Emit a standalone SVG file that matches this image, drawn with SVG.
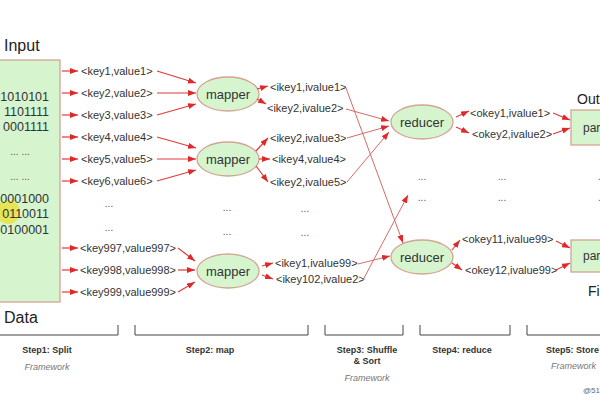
<svg xmlns="http://www.w3.org/2000/svg" width="600" height="400" viewBox="0 0 600 400">
<style>
text{font-family:"Liberation Sans",Arial,sans-serif;fill:#333}
.t{font-size:11px}
.big{font-size:16px;fill:#222}
.bin{font-size:12.5px;text-anchor:end}
.dots{font-size:10px;fill:#555}
.node{fill:#d6f5cf;stroke:#d4a494;stroke-width:1.3}
.lbl{font-size:13px;text-anchor:middle}
.ar{stroke:#e23a3a;stroke-width:1.2;fill:none;marker-end:url(#ah)}
.ln{stroke:#d86a6a;stroke-width:1;fill:none;marker-end:url(#ah)}
.br{stroke:#444;stroke-width:1;fill:none}
.step{font-size:9px;font-weight:bold;text-anchor:middle;fill:#333}
.fw{font-size:9px;font-style:italic;text-anchor:middle;fill:#777}
</style>
<defs>
<marker id="ah" markerUnits="userSpaceOnUse" markerWidth="8" markerHeight="6" refX="8" refY="3" orient="auto">
<path d="M0,0 L8,3 L0,6 z" fill="#e02828"/>
</marker>
</defs>
<rect width="600" height="400" fill="#fff"/>

<g id="input">
<text class="big" x="4" y="51">Input</text>
<rect class="node" x="-5" y="60" width="65" height="242"/>
<circle cx="8" cy="212" r="12" fill="#e8e030" fill-opacity="0.75"/>
<text class="bin" x="49" y="101">1010101</text>
<text class="bin" x="49" y="116">1101111</text>
<text class="bin" x="49" y="131">0001111</text>
<text class="dots" x="20" y="155" text-anchor="middle">... ...</text>
<text class="dots" x="20" y="180" text-anchor="middle">... ...</text>
<text class="bin" x="49" y="203">0001000</text>
<text class="bin" x="49" y="218">0110011</text>
<text class="bin" x="49" y="234">0100001</text>
<text class="big" x="4" y="323">Data</text>
</g>

<g id="keys">
<text class="t" x="81" y="75">&lt;key1,value1&gt;</text>
<text class="t" x="81" y="97">&lt;key2,value2&gt;</text>
<text class="t" x="81" y="119">&lt;key3,value3&gt;</text>
<text class="t" x="81" y="141">&lt;key4,value4&gt;</text>
<text class="t" x="81" y="163">&lt;key5,value5&gt;</text>
<text class="t" x="81" y="185">&lt;key6,value6&gt;</text>
<text class="dots" x="109" y="207" text-anchor="middle">...</text>
<text class="dots" x="109" y="231" text-anchor="middle">...</text>
<text class="t" x="80" y="252">&lt;key997,value997&gt;</text>
<text class="t" x="80" y="274">&lt;key998,value998&gt;</text>
<text class="t" x="80" y="296">&lt;key999,value999&gt;</text>
</g>

<g id="mapper1"><ellipse class="node" cx="228" cy="94" rx="31" ry="17"/><text class="lbl" x="228" y="99">mapper</text></g>
<g id="mapper2"><ellipse class="node" cx="228" cy="159" rx="31" ry="17"/><text class="lbl" x="228" y="164">mapper</text></g>
<g id="mapper3"><ellipse class="node" cx="228" cy="271" rx="31" ry="17"/><text class="lbl" x="228" y="276">mapper</text></g>

<g id="intermediate">
<text class="t" x="270" y="91">&lt;ikey1,ivalue1&gt;</text>
<text class="t" x="267" y="112">&lt;ikey2,ivalue2&gt;</text>
<text class="t" x="270" y="142">&lt;ikey2,ivalue3&gt;</text>
<text class="t" x="272" y="163">&lt;ikey4,value4&gt;</text>
<text class="t" x="270" y="186">&lt;ikey2,ivalue5&gt;</text>
<text class="dots" x="227" y="211" text-anchor="middle">...</text>
<text class="dots" x="227" y="235" text-anchor="middle">...</text>
<text class="dots" x="305" y="212" text-anchor="middle">...</text>
<text class="dots" x="305" y="236" text-anchor="middle">...</text>
<text class="t" x="275" y="267">&lt;ikey1,ivalue99&gt;</text>
<text class="t" x="276" y="283">&lt;ikey102,ivalue2&gt;</text>
</g>

<g id="reducer1"><ellipse class="node" cx="422" cy="122" rx="31" ry="17"/><text class="lbl" x="422" y="127">reducer</text></g>
<g id="reducer2"><ellipse class="node" cx="422" cy="257" rx="31" ry="17"/><text class="lbl" x="422" y="262">reducer</text></g>

<g id="outputs">
<text class="dots" x="422" y="180" text-anchor="middle">...</text>
<text class="dots" x="422" y="201" text-anchor="middle">...</text>
<text class="dots" x="502" y="180" text-anchor="middle">...</text>
<text class="dots" x="502" y="201" text-anchor="middle">...</text>
<text class="t" x="470" y="117">&lt;okey1,ivalue1&gt;</text>
<text class="t" x="472" y="138">&lt;okey2,ivalue2&gt;</text>
<text class="t" x="462" y="243">&lt;okey11,ivalue99&gt;</text>
<text class="t" x="465" y="274">&lt;okey12,ivalue99&gt;</text>
</g>

<g id="part1">
<text class="big" x="577" y="104" style="font-size:14px">Output</text>
<rect class="node" x="571" y="110" width="40" height="35"/>
<text class="t" x="583" y="132" style="font-size:12px">part</text>
<text class="dots" x="598" y="180">.</text>
<text class="dots" x="598" y="201">.</text>
</g>
<g id="part2">
<rect class="node" x="571" y="240" width="40" height="32"/>
<text class="t" x="583" y="260" style="font-size:12px">part</text>
<text class="big" x="588" y="296" style="font-size:14px">File</text>
</g>

<g id="connectors">
<line class="ar" x1="62" y1="71" x2="78" y2="71"/>
<line class="ar" x1="62" y1="93" x2="78" y2="93"/>
<line class="ar" x1="62" y1="115" x2="78" y2="115"/>
<line class="ar" x1="62" y1="137" x2="78" y2="137"/>
<line class="ar" x1="62" y1="159" x2="78" y2="159"/>
<line class="ar" x1="62" y1="181" x2="78" y2="181"/>
<line class="ar" x1="62" y1="248" x2="78" y2="248"/>
<line class="ar" x1="62" y1="270" x2="78" y2="270"/>
<line class="ar" x1="62" y1="292" x2="78" y2="292"/>

<line class="ar" x1="157" y1="71" x2="196" y2="83"/>
<line class="ar" x1="157" y1="93" x2="196" y2="93"/>
<line class="ar" x1="157" y1="115" x2="196" y2="104"/>
<line class="ar" x1="157" y1="137" x2="196" y2="148"/>
<line class="ar" x1="157" y1="159" x2="196" y2="159"/>
<line class="ar" x1="157" y1="181" x2="196" y2="170"/>
<line class="ar" x1="178" y1="248" x2="195" y2="261"/>
<line class="ar" x1="178" y1="270" x2="195" y2="270"/>
<line class="ar" x1="178" y1="292" x2="195" y2="282"/>

<line class="ar" x1="257" y1="89" x2="268" y2="86"/>
<line class="ar" x1="257" y1="99" x2="266" y2="104"/>
<line class="ar" x1="256" y1="151" x2="268" y2="138"/>
<line class="ar" x1="259" y1="159" x2="270" y2="159"/>
<line class="ar" x1="256" y1="166" x2="268" y2="182"/>
<line class="ar" x1="262" y1="266" x2="273" y2="263"/>
<line class="ar" x1="262" y1="275" x2="273" y2="279"/>

<line class="ln" x1="346" y1="88" x2="403" y2="243"/>
<line class="ln" x1="346" y1="109" x2="389" y2="121"/>
<line class="ln" x1="347" y1="138" x2="389" y2="126"/>
<line class="ln" x1="347" y1="182" x2="389" y2="132"/>
<line class="ln" x1="358" y1="264" x2="390" y2="256"/>
<line class="ln" x1="363" y1="280" x2="408" y2="195"/>

<line class="ar" x1="456" y1="117" x2="469" y2="111"/>
<line class="ar" x1="456" y1="127" x2="469" y2="133"/>
<line class="ar" x1="452" y1="250" x2="460" y2="240"/>
<line class="ar" x1="452" y1="263" x2="462" y2="270"/>

<line class="ar" x1="553" y1="113" x2="570" y2="120"/>
<line class="ar" x1="553" y1="134" x2="570" y2="128"/>
<line class="ar" x1="556" y1="241" x2="570" y2="248"/>
<line class="ar" x1="556" y1="270" x2="570" y2="263"/>
</g>

<g id="steps">
<path class="br" d="M0,335 H118 V325"/>
<path class="br" d="M135,325 V335 H308 V325"/>
<path class="br" d="M325,325 V335 H403 V325"/>
<path class="br" d="M420,325 V335 H510 V325"/>
<path class="br" d="M527,325 V335 H600"/>
<text class="step" x="47" y="353">Step1: Split</text>
<text class="fw" x="47" y="370">Framework</text>
<text class="step" x="210" y="353">Step2: map</text>
<text class="step" x="367" y="353">Step3: Shuffle</text>
<text class="step" x="367" y="364">&amp; Sort</text>
<text class="fw" x="367" y="381">Framework</text>
<text class="step" x="462" y="353">Step4: reduce</text>
<text class="step" x="546" y="353" style="text-anchor:start">Step5: Store</text>
<text class="fw" x="551" y="369" style="text-anchor:start">Framework</text>
<text x="583" y="393" style="font-size:8px;fill:#666">@51</text>
</g>
</svg>
